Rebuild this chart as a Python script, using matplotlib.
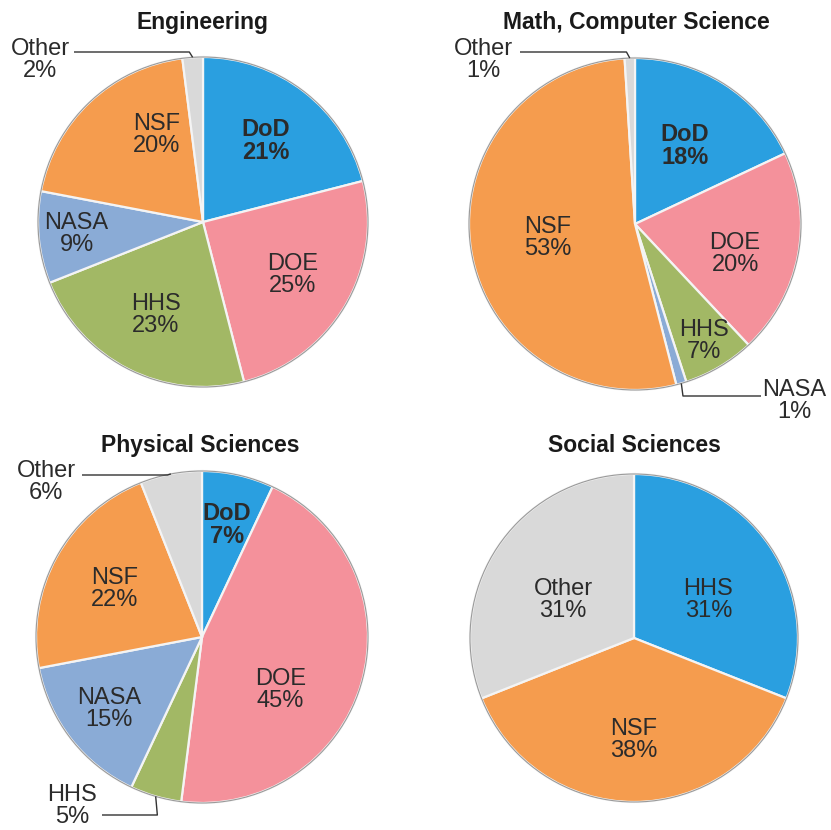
import matplotlib
matplotlib.use('Agg')
import matplotlib.pyplot as plt
import numpy as np

plt.rcParams['font.family'] = ['Liberation Sans', 'DejaVu Sans']

W, H = 831, 830

# ---------------- data ----------------
eng_labels = ['DoD', 'DOE', 'HHS', 'NASA', 'NSF', 'Other']
eng_values = [21, 25, 23, 9, 20, 2]

math_labels = ['DoD', 'DOE', 'HHS', 'NASA', 'NSF', 'Other']
math_values = [18, 20, 7, 1, 53, 1]

phys_labels = ['DoD', 'DOE', 'HHS', 'NASA', 'NSF', 'Other']
phys_values = [7, 45, 5, 15, 22, 6]

soc_labels = ['HHS', 'NSF', 'Other']
soc_values = [31, 38, 31]

titles = ['Engineering', 'Math, Computer Science', 'Physical Sciences', 'Social Sciences']

# ---------------- style ----------------
BLUE, PINK, GREEN, STEEL, ORANGE, GRAY = '#2a9fe0', '#f4919b', '#a2b865', '#8aabd6', '#f59c4e', '#d9d9d9'
agency_colors = {'DoD': BLUE, 'DOE': PINK, 'HHS': GREEN, 'NASA': STEEL, 'NSF': ORANGE, 'Other': GRAY}
soc_colors = [BLUE, ORANGE, GRAY]
TXT = '#2b2b2b'
FS = 17.0
LS = 1.0

# pie layout in pixels: centre x, centre y, radius, title x, title y, quadrant box
pies = [
    dict(labels=eng_labels, values=eng_values, colors=[agency_colors[l] for l in eng_labels],
         cx=203, cy=222, r=165, tx=203, ty=23, box=(0, 0, 415, 415),
         ldist=[0.62, 0.63, 0.63, 0.77, 0.60, None], lrot=[0, 0, 0, 0, -15, 0],
         outside={'Other': dict(text=(40, 60), line_y=52, start_x=74)}),
    dict(labels=math_labels, values=math_values, colors=[agency_colors[l] for l in math_labels],
         cx=635, cy=224, r=166, tx=636, ty=23, box=(415, 0, 831, 415),
         ldist=[0.56, 0.63, 0.82, None, 0.53, None], lrot=[0, -6, 0, 0, 0, 0],
         outside={'Other': dict(text=(483, 60), line_y=52, start_x=520),
                  'NASA': dict(text=(794, 401), line_y=396, start_x=761)}),
    dict(labels=phys_labels, values=phys_values, colors=[agency_colors[l] for l in phys_labels],
         cx=202, cy=637, r=166, tx=200, ty=445, box=(0, 415, 415, 830),
         ldist=[0.69, 0.57, None, 0.71, 0.60, None], lrot=[0, -18, 0, 0, 0, 0],
         outside={'Other': dict(text=(46, 482), line_y=475, start_x=82),
                  'HHS': dict(text=(72, 806), line_y=815, start_x=102)}),
    dict(labels=soc_labels, values=soc_values, colors=soc_colors,
         cx=634, cy=638, r=164, tx=634, ty=445, box=(415, 415, 831, 830),
         ldist=[0.51, 0.62, 0.49], lrot=[-7, 0, 6],
         outside={}),
]

fig = plt.figure(figsize=(W / 100, H / 100), dpi=100)
fig.patch.set_facecolor('white')

for p, title in zip(pies, titles):
    x0, y0, x1, y1 = p['box']
    cx, cy, r = p['cx'], p['cy'], p['r']
    ax = fig.add_axes([x0 / W, 1 - y1 / H, (x1 - x0) / W, (y1 - y0) / H])
    wedges, _ = ax.pie(p['values'], colors=p['colors'], startangle=90, counterclock=False,
                       wedgeprops=dict(edgecolor='#f4f4f4', linewidth=1.6))
    ax.set_aspect('auto')
    ax.set_xlim((x0 - cx) / r, (x1 - cx) / r)
    ax.set_ylim((cy - y1) / r, (cy - y0) / r)
    ax.axis('off')
    circ = plt.Circle((0, 0), 1.0, fill=False, edgecolor='#9a9a9a', linewidth=0.8)
    ax.add_patch(circ)

    def px2d(px, py):
        return (px - cx) / r, (cy - py) / r

    total = float(sum(p['values']))
    cum = 0.0
    for i, (lab, val) in enumerate(zip(p['labels'], p['values'])):
        mid = 90 - (cum + val / 2.0) / total * 360.0
        cum += val
        txt = f'{lab}\n{val}%'
        weight = 'bold' if lab == 'DoD' else 'normal'
        if lab in p['outside']:
            o = p['outside'][lab]
            tx, ty = px2d(*o['text'])
            ax.text(tx, ty, txt, ha='center', va='center', fontsize=FS, color=TXT,
                    linespacing=LS)
            ex, ey = np.cos(np.radians(mid)), np.sin(np.radians(mid))
            sx, ly = px2d(o['start_x'], o['line_y'])
            cxn = ex - 0.02 if ey > 0 else ex + 0.01
            ax.plot([sx, cxn, ex], [ly, ly, ey], color='#333333', lw=1.0,
                    solid_capstyle='butt', clip_on=False)
        else:
            d = p['ldist'][i]
            a = np.radians(mid + p['lrot'][i])
            ax.text(d * np.cos(a), d * np.sin(a), txt, ha='center', va='center',
                    fontsize=FS, color=TXT, fontweight=weight, linespacing=LS)

    fig.text(p['tx'] / W, 1 - p['ty'] / H, title, ha='center', va='center',
             fontsize=16.5, fontweight='bold', color='#1a1a1a')

fig.savefig('out.png', dpi=100, facecolor='white')
